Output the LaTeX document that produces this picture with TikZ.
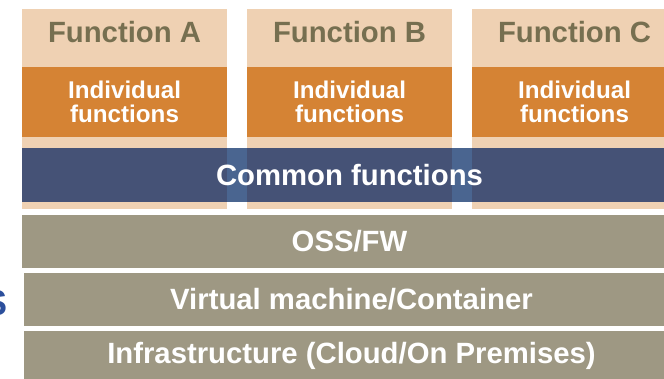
\documentclass[tikz,border=0pt]{standalone}
\usepackage{fontspec}
\setmainfont{Liberation Sans}
\definecolor{colbeige}{HTML}{EFD1B3}
\definecolor{colorange}{HTML}{D58334}
\definecolor{coltitle}{HTML}{766F50}
\definecolor{bandblue}{HTML}{455276}
\definecolor{bandgap}{HTML}{4A6590}
\definecolor{layergray}{HTML}{9E9883}
\definecolor{edgeblue}{HTML}{2C4F9C}
\begin{document}
\begin{tikzpicture}[x=1pt,y=-1pt,
  bigtext/.style={font=\bfseries\fontsize{29.3}{29.3}\selectfont},
  box/.style={draw=none,inner sep=0pt,outer sep=0pt,anchor=north west,align=center},
  column/.style={box,fill=colbeige,minimum width=205pt,minimum height=200pt},
  coltitle/.style={bigtext,text=coltitle},
  indiv/.style={box,fill=colorange,text=white,minimum width=205pt,minimum height=70pt,
    font=\bfseries\fontsize{24.2}{24}\selectfont},
  layer/.style={box,bigtext,fill=layergray,text=white,minimum width=655pt,minimum height=53pt}]
  \useasboundingbox (0,0) rectangle (664,378);
  \clip (0,0) rectangle (664,378);

  % function columns
  \foreach \name/\lbl/\xx in {a/A/22, b/B/247, c/C/472}{
    \node[column] (col\name) at (\xx,9) {};
    \node[coltitle] (title\name) at (\xx+102.5,32) {Function \lbl};
    \node[indiv] (ind\name) at (\xx,67) {Individual\\functions};
  }

  % common functions band across the columns; lighter where it crosses the gaps
  \node[box,fill=bandblue,minimum width=655pt,minimum height=54pt] (common) at (22,148) {};
  \fill[bandgap] (cola.north east |- common.north) rectangle (colb.north west |- common.south);
  \fill[bandgap] (colb.north east |- common.north) rectangle (colc.north west |- common.south);
  \node[bigtext,text=white] (commonlabel) at (common.center) {Common functions};

  % platform layers
  \node[layer] (oss) at (22,215) {OSS/FW};
  \node[layer] (vm) at (24,273) {Virtual machine/Container};
  \node[layer,minimum height=49pt] (infra) at (24,331) {Infrastructure (Cloud/On Premises)};

  % label running off the left margin
  \node[anchor=east,inner sep=0pt,text=edgeblue,font=\bfseries\fontsize{36}{36}\selectfont] (side) at (8,303) {S};
\end{tikzpicture}
\end{document}
